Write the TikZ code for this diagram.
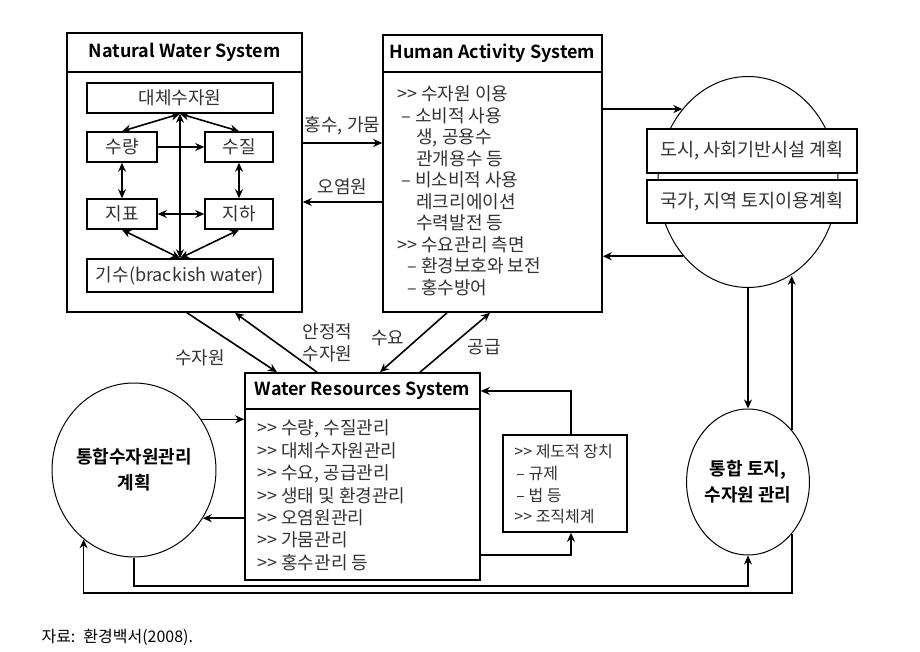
\documentclass[tikz,border=0pt]{standalone}
\usepackage{fontspec}
\setmainfont{Noto Sans CJK KR}[BoldFont={Noto Sans CJK KR Bold}]
\usetikzlibrary{shapes.geometric,arrows.meta}
\newcommand{\mrk}{>{}>}

\begin{document}
\begin{tikzpicture}[x=1pt, y=-1pt,
  sys/.style={draw, line width=1.6pt, fill=white, inner sep=0pt},
  head/.style={draw, line width=1.6pt, anchor=north, inner sep=0pt, font=\bfseries\fontsize{18}{20}\selectfont},
  sub/.style={draw, line width=1.6pt, minimum height=30pt, inner sep=0pt, text=black!80, font=\fontsize{18}{20}\selectfont},
  lst/.style={anchor=north west, align=left, inner sep=0pt, text=black!80, font=\fontsize{18}{21.5}\selectfont},
  lbl/.style={font=\fontsize{18}{22}\selectfont, align=center, inner sep=1pt, text=black!80},
  arr/.style={line width=1.6pt, -{Stealth[length=9pt,width=8pt]}},
  darr/.style={line width=1.6pt, {Stealth[length=9pt,width=8pt]}-{Stealth[length=9pt,width=8pt]}},
  oval/.style={draw, ellipse, line width=1pt, inner sep=0pt, align=center, font=\bfseries\fontsize{18}{26}\selectfont}]
\fill[white] (0,0) rectangle (920,652);
\useasboundingbox (0,0) rectangle (920,652);

\node[sys, minimum width=235pt, minimum height=279pt] (nws) at (184.5,172.5) {};
\node[head, minimum width=235pt, minimum height=39pt] (nwst) at (nws.north) {Natural Water System};
\node[sub, minimum width=186pt] (alt) at (180,98) {대체수자원};
\node[sub, minimum width=70pt] (qty) at (122,147) {수량};
\node[sub, minimum width=68pt] (qlt) at (239,147) {수질};
\node[sub, minimum width=70pt] (surf) at (122,214) {지표};
\node[sub, minimum width=68pt] (grnd) at (239,214) {지하};
\node[sub, minimum width=186pt, minimum height=33pt] (brk) at (180,275.5) {기수(brackish water)};
\draw[darr] (alt.south) -- (brk.north);
\draw[darr] (alt.south) -- (qty.north);
\draw[darr] (alt.south) -- (qlt.north);
\draw[darr] (brk.north) -- (surf.south);
\draw[darr] (brk.north) -- (grnd.south);
\draw[arr] (qty) -- (qlt);
\draw[darr] (surf) -- (grnd);
\draw[darr] (qty) -- (surf);
\draw[darr] (qlt) -- (grnd);

\node[sys, minimum width=219pt, minimum height=277pt] (has) at (492.5,173.5) {};
\node[head, minimum width=219pt, minimum height=37pt] (hast) at (has.north) {Human Activity System};
\node[lst] (hasl) at ([xshift=15pt,yshift=-13pt]hast.south west) {\mrk{} 수자원 이용\\
\hspace*{4pt}– 소비적 사용\\
\hspace*{19pt}생, 공용수\\
\hspace*{19pt}관개용수 등\\
\hspace*{4pt}– 비소비적 사용\\
\hspace*{19pt}레크리에이션\\
\hspace*{19pt}수력발전 등\\
\mrk{} 수요관리 측면\\
\hspace*{10pt}– 환경보호와 보전\\
\hspace*{10pt}– 홍수방어};

\node[sys, minimum width=235pt, minimum height=207pt] (wrs) at (362.5,476.5) {};
\node[head, minimum width=235pt, minimum height=36pt] (wrst) at (wrs.north) {Water Resources System};
\node[lst, font=\fontsize{18}{22.4}\selectfont] (wrsl) at ([xshift=13pt,yshift=-10pt]wrst.south west) {\mrk{} 수량, 수질관리\\
\mrk{} 대체수자원관리\\
\mrk{} 수요, 공급관리\\
\mrk{} 생태 및 환경관리\\
\mrk{} 오염원관리\\
\mrk{} 가뭄관리\\
\mrk{} 홍수관리 등};

\node[sys, minimum width=124pt, minimum height=97pt] (inst) at (565,483.5) {};
\node[lst, font=\fontsize{16}{21.7}\selectfont] (instl) at ([xshift=12pt,yshift=-10pt]inst.north west) {\mrk{} 제도적 장치\\
\hspace*{2pt}– 규제\\
\hspace*{2pt}– 법 등\\
\mrk{} 조직체계};

\node[oval, minimum width=180pt, minimum height=211pt] (land) at (748,182) {};
\node[sys, minimum width=210pt, minimum height=44pt, text=black!80, font=\fontsize{18.5}{20}\selectfont] (city) at (752,151) {도시, 사회기반시설 계획};
\node[sys, minimum width=210pt, minimum height=43pt, text=black!80, font=\fontsize{18.5}{20}\selectfont] (region) at (752,201.5) {국가, 지역 토지이용계획};
\node[oval, minimum width=138pt, minimum height=174pt] (iwrm) at (134,470) {통합수자원관리\\계획};
\node[oval, minimum width=120pt, minimum height=146pt] (ilw) at (748,482) {통합 토지,\\수자원 관리};

\coordinate (f1) at ([yshift=29.5pt]nws.east);
\coordinate (f2) at ([yshift=-29.5pt]nws.east);
\draw[arr] (f1) -- (f1 -| has.west) node[lbl, midway, above=6pt] {홍수, 가뭄};
\draw[arr] (f2 -| has.west) -- (f2) node[lbl, midway, above=6pt] {오염원};

\draw[arr] ([xshift=2.5pt]nws.south) -- ([xshift=-85.5pt]wrs.north) node[lbl, pos=0.75, left=28pt] {수자원};
\draw[arr] ([xshift=-45.5pt]wrs.north) -- ([xshift=50.5pt]nws.south) node[lbl, pos=0.5, right=25pt] {안정적\\수자원};
\draw[arr] ([xshift=-45.5pt]has.south) -- ([xshift=17.5pt]wrs.north) node[lbl, pos=0.43, left=12pt] {수요};
\draw[arr] ([xshift=57.5pt]wrs.north) -- ([xshift=-2.5pt]has.south) node[lbl, pos=0.43, right=16pt] {공급};

\draw[arr] (has.east |- land.132) -- (land.132);
\draw[arr] (land.229) -- (has.east |- land.229);
\draw[arr] (land.south) -- (ilw.north);
\draw[arr] (ilw.50) -- (ilw.50 |- land.-66);

\draw[arr] (iwrm.37) -- (wrs.west |- iwrm.37);
\draw[arr] (wrs.west |- iwrm.-35) -- (iwrm.-35);

\draw[arr] ([xshift=6pt]inst.north) |- ([yshift=85.5pt]wrs.east);
\draw[arr] ([yshift=-78.5pt]wrs.east) -| ([xshift=6pt]inst.south);

\coordinate (b1) at (0,586);
\coordinate (b2) at (0,593);
\draw[arr] (iwrm.south) -- (iwrm.south |- b1) -- (ilw.south |- b1) -- (ilw.south);
\draw[arr] (ilw.-50) -- (ilw.-50 |- b2) -- (iwrm.234 |- b2) -- (iwrm.234);

\node[anchor=west, font=\fontsize{16}{18}\selectfont] (src) at (38,637) {자료:\enspace 환경백서(2008).};
\end{tikzpicture}
\end{document}
